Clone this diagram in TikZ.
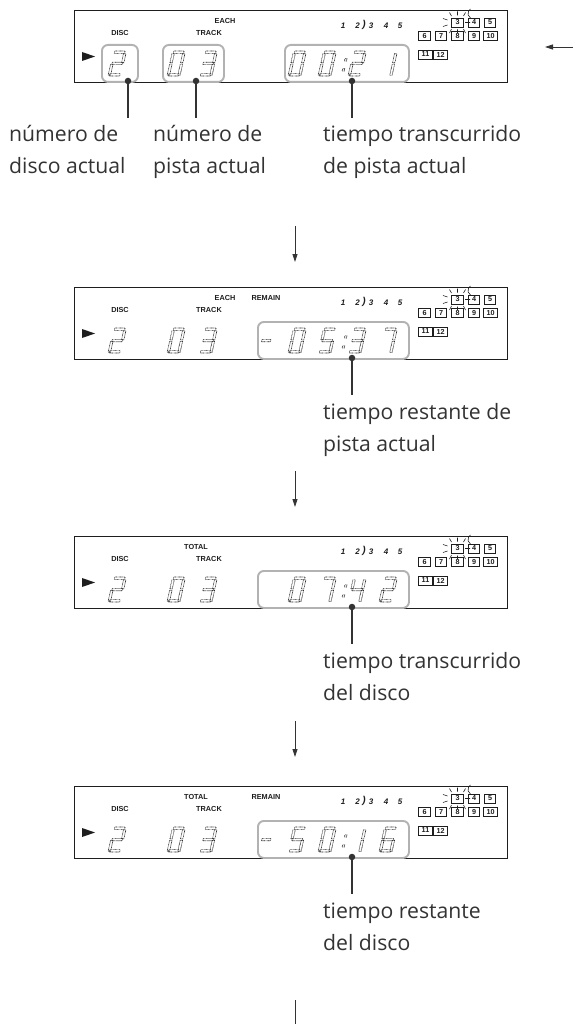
\documentclass[tikz,border=0pt]{standalone}
\usepackage{fontspec}
\setmainfont{Open Sans}
\newfontfamily\lcdfont{Liberation Sans}
\usetikzlibrary{arrows.meta}
\definecolor{ink}{HTML}{333333}
\definecolor{lcdink}{HTML}{1E1E1E}
\definecolor{rimgray}{HTML}{B2B2B2}
\tikzset{
 panelbox/.style={draw=lcdink, line width=0.9pt, fill=white, inner sep=0},
 lcdlbl/.style={font=\lcdfont\bfseries\fontsize{7.3}{8}\selectfont, inner sep=0, text=lcdink},
 traynum/.style={font=\lcdfont\bfseries\itshape\fontsize{8}{9}\selectfont, inner sep=0, text=lcdink},
 gridbox/.style={draw=lcdink, line width=0.6pt, inner sep=0, minimum width=11.5pt, minimum height=9pt, font=\lcdfont\bfseries\fontsize{7.2}{7.2}\selectfont, text=lcdink},
 rim/.style={draw=rimgray, line width=1.9pt, rounded corners=6pt, inner sep=0},
 seg/.style={draw=lcdink, line width=0.6pt, dash pattern=on 0.7pt off 0.6pt},
 ray/.style={draw=lcdink, line width=0.6pt},
 leader/.style={draw=ink, line width=2.4pt},
 pin/.style={fill=ink, circle, inner sep=0, minimum size=6.5pt},
 label/.style={align=left, anchor=base west, inner sep=0, text=ink, font=\fontsize{21.2}{32}\selectfont},
 flow/.style={draw=ink, line width=0.8pt, -{Triangle[length=8pt,width=5pt]}},
}
\expandafter\def\csname dsegs0\endcsname{a,b,c,d,e,f}
\expandafter\def\csname dsegs1\endcsname{b,c}
\expandafter\def\csname dsegs2\endcsname{a,b,g,e,d}
\expandafter\def\csname dsegs3\endcsname{a,b,g,c,d}
\expandafter\def\csname dsegs4\endcsname{f,g,b,c}
\expandafter\def\csname dsegs5\endcsname{a,f,g,c,d}
\expandafter\def\csname dsegs6\endcsname{a,f,g,e,d,c}
\expandafter\def\csname dsegs7\endcsname{a,b,c}
\expandafter\def\csname dsegs8\endcsname{a,b,c,d,e,f,g}
\expandafter\def\csname dsegs9\endcsname{a,b,c,d,f,g}
\newcommand\drawseg[1]{%
 \if#1a\draw[seg] (1.3,22.6) rectangle (11.7,25);\fi
 \if#1b\draw[seg] (10.6,13.2) rectangle (13,22.2);\fi
 \if#1c\draw[seg] (10.6,0.8) rectangle (13,11.8);\fi
 \if#1d\draw[seg] (1.3,0) rectangle (11.7,2.4);\fi
 \if#1e\draw[seg] (0,0.8) rectangle (2.4,11.8);\fi
 \if#1f\draw[seg] (0,13.2) rectangle (2.4,22.2);\fi
 \if#1g\draw[seg] (1.3,11.3) rectangle (11.7,13.7);\fi}
\newcommand\lcdnum[3]{%
 \edef\tmpsegs{\csname dsegs#3\endcsname}%
 \begin{scope}[shift={(#1,#2)}, xslant=0.22, yscale=-1]
  \foreach \s in \tmpsegs {\drawseg{\s}}
 \end{scope}}
\newcommand\lcdcolon[2]{%
 \begin{scope}[shift={(#1,#2)}, xslant=0.22, yscale=-1]
  \draw[seg] (0,5) rectangle (2.2,7.2);
  \draw[seg] (0,15) rectangle (2.2,17.2);
 \end{scope}}
\newcommand\lcdminus[2]{%
 \begin{scope}[shift={(#1,#2)}, xslant=0.22, yscale=-1]
  \draw[seg] (0,11.3) rectangle (9,13.7);
 \end{scope}}
\newcommand\panelframe[1]{%
 \node[panelbox, anchor=north west, minimum width=433pt, minimum height=72pt] (box#1) at (74,0) {};
 \fill[lcdink] (82,42) -- (95,46.5) -- (82,51) -- cycle;
 \node[lcdlbl] (disc#1) at (120,23) {DISC};
 \node[lcdlbl] (track#1) at (209,23) {TRACK};
 \node[traynum] (ta#1) at (343,16) {1};
 \node[traynum] (tb#1) at (357.5,16) {2};
 \node[traynum, font=\lcdfont\bfseries\itshape\fontsize{10}{10}\selectfont] (tp#1) at (364,15) {)};
 \node[traynum] (tc#1) at (371,16) {3};
 \node[traynum] (td#1) at (386,16) {4};
 \node[traynum] (te#1) at (400,16) {5};
 \node[gridbox] (g3#1) at (457.5,12.5) {3};
 \node[gridbox] (g4#1) at (474,12.5) {4};
 \node[gridbox] (g5#1) at (490,12.5) {5};
 \node[gridbox] (g6#1) at (424.5,26) {6};
 \node[gridbox] (g7#1) at (441,26) {7};
 \node[gridbox] (g8#1) at (457.5,26) {8};
 \node[gridbox] (g9#1) at (474,26) {9};
 \node[gridbox, minimum width=13.5pt] (g10#1) at (490.5,26) {10};
 \node[gridbox, minimum width=13.5pt] (g11#1) at (425.5,44.5) {11};
 \node[gridbox, minimum width=13.5pt] (g12#1) at (440.5,44.5) {12};
 \draw[ray] (443,8.5) -- (447.5,10) (443,16.5) -- (447.5,15);
 \draw[ray] (449.5,2.5) -- (451.5,6) (457.5,1.5) -- (457.5,5.5) (465.5,2.5) -- (463.5,6);
 \draw[ray] (451.5,19) -- (449.5,23) (457.5,19.5) -- (457.5,23) (463.5,19) -- (465.5,23);
 \draw[ray] (465,12.5) -- (470,12.5) (470.5,8) arc[start angle=120, end angle=240, radius=5.2];
 \lcdnum{108}{66}{2}
 \lcdnum{167}{66}{0}
 \lcdnum{199}{66}{3}
}
\begin{document}
\begin{tikzpicture}[x=1pt,y=-1pt]
\useasboundingbox (0,0) rectangle (573,1024);
% ---------- panel 1
\begin{scope}[shift={(0,10)}]
 \panelframe{a}
 \node[lcdlbl] (ea) at (225,11) {EACH};
 \node[rim, anchor=north west, minimum width=36pt, minimum height=37pt] (rda) at (101,34) {};
 \node[rim, anchor=north west, minimum width=61pt, minimum height=37pt] (rta) at (162,34) {};
 \node[rim, anchor=north west, minimum width=124pt, minimum height=37pt] (rma) at (284,34) {};
 \lcdnum{288}{66}{0}\lcdnum{318}{66}{0}\lcdcolon{341}{66}\lcdnum{348}{66}{2}\lcdnum{379}{66}{1}
 \coordinate (ea1) at (128,108); \coordinate (ea2) at (196,108); \coordinate (ea3) at (352,108);
 \node[pin] (pa1) at (128,71) {}; \node[pin] (pa2) at (196,71) {}; \node[pin] (pa3) at (352,71) {};
 \draw[leader] (pa1.center) -- (ea1); \draw[leader] (pa2.center) -- (ea2); \draw[leader] (pa3.center) -- (ea3);
 \node[label] (la1) at (9,164) {número de\\disco actual};
 \node[label] (la2) at (153,164) {número de\\pista actual};
 \node[label] (la3) at (323,164) {tiempo transcurrido\\de pista actual};
\end{scope}
\coordinate (rs) at (573,47); \coordinate (re) at (545,47);
\draw[flow] (rs) -- (re);
\coordinate (f1s) at (295,226); \coordinate (f1e) at (295,262);
\draw[flow] (f1s) -- (f1e);
% ---------- panel 2
\begin{scope}[shift={(0,287)}]
 \panelframe{b}
 \node[lcdlbl] (eb) at (225,11) {EACH};
 \node[lcdlbl] (rb) at (266,11) {REMAIN};
 \node[rim, anchor=north west, minimum width=151pt, minimum height=37pt] (rmb) at (257,34) {};
 \lcdminus{259}{66}\lcdnum{288}{66}{0}\lcdnum{318}{66}{5}\lcdcolon{341}{66}\lcdnum{348}{66}{3}\lcdnum{379}{66}{7}
 \coordinate (eb3) at (352,108);
 \node[pin] (pb3) at (352,71) {};
 \draw[leader] (pb3.center) -- (eb3);
 \node[label] (lb3) at (323,164) {tiempo restante de\\pista actual};
\end{scope}
\coordinate (f2s) at (295,471); \coordinate (f2e) at (295,507);
\draw[flow] (f2s) -- (f2e);
% ---------- panel 3
\begin{scope}[shift={(0,536)}]
 \panelframe{c}
 \node[lcdlbl] (tc) at (196,11) {TOTAL};
 \node[rim, anchor=north west, minimum width=151pt, minimum height=37pt] (rmc) at (257,34) {};
 \lcdnum{288}{66}{0}\lcdnum{318}{66}{7}\lcdcolon{341}{66}\lcdnum{348}{66}{4}\lcdnum{379}{66}{2}
 \coordinate (ec3) at (352,108);
 \node[pin] (pc3) at (352,71) {};
 \draw[leader] (pc3.center) -- (ec3);
 \node[label] (lc3) at (323,164) {tiempo transcurrido\\del disco};
\end{scope}
\coordinate (f3s) at (295,721); \coordinate (f3e) at (295,757);
\draw[flow] (f3s) -- (f3e);
% ---------- panel 4
\begin{scope}[shift={(0,786)}]
 \panelframe{d}
 \node[lcdlbl] (td) at (196,11) {TOTAL};
 \node[lcdlbl] (rd) at (266,11) {REMAIN};
 \node[rim, anchor=north west, minimum width=151pt, minimum height=37pt] (rmd) at (257,34) {};
 \lcdminus{259}{66}\lcdnum{288}{66}{5}\lcdnum{318}{66}{0}\lcdcolon{341}{66}\lcdnum{348}{66}{1}\lcdnum{379}{66}{6}
 \coordinate (ed3) at (352,108);
 \node[pin] (pd3) at (352,71) {};
 \draw[leader] (pd3.center) -- (ed3);
 \node[label] (ld3) at (323,164) {tiempo restante\\del disco};
\end{scope}
\coordinate (f4s) at (295,1000); \coordinate (f4e) at (295,1024);
\draw[draw=ink, line width=0.8pt] (f4s) -- (f4e);
\end{tikzpicture}
\end{document}
